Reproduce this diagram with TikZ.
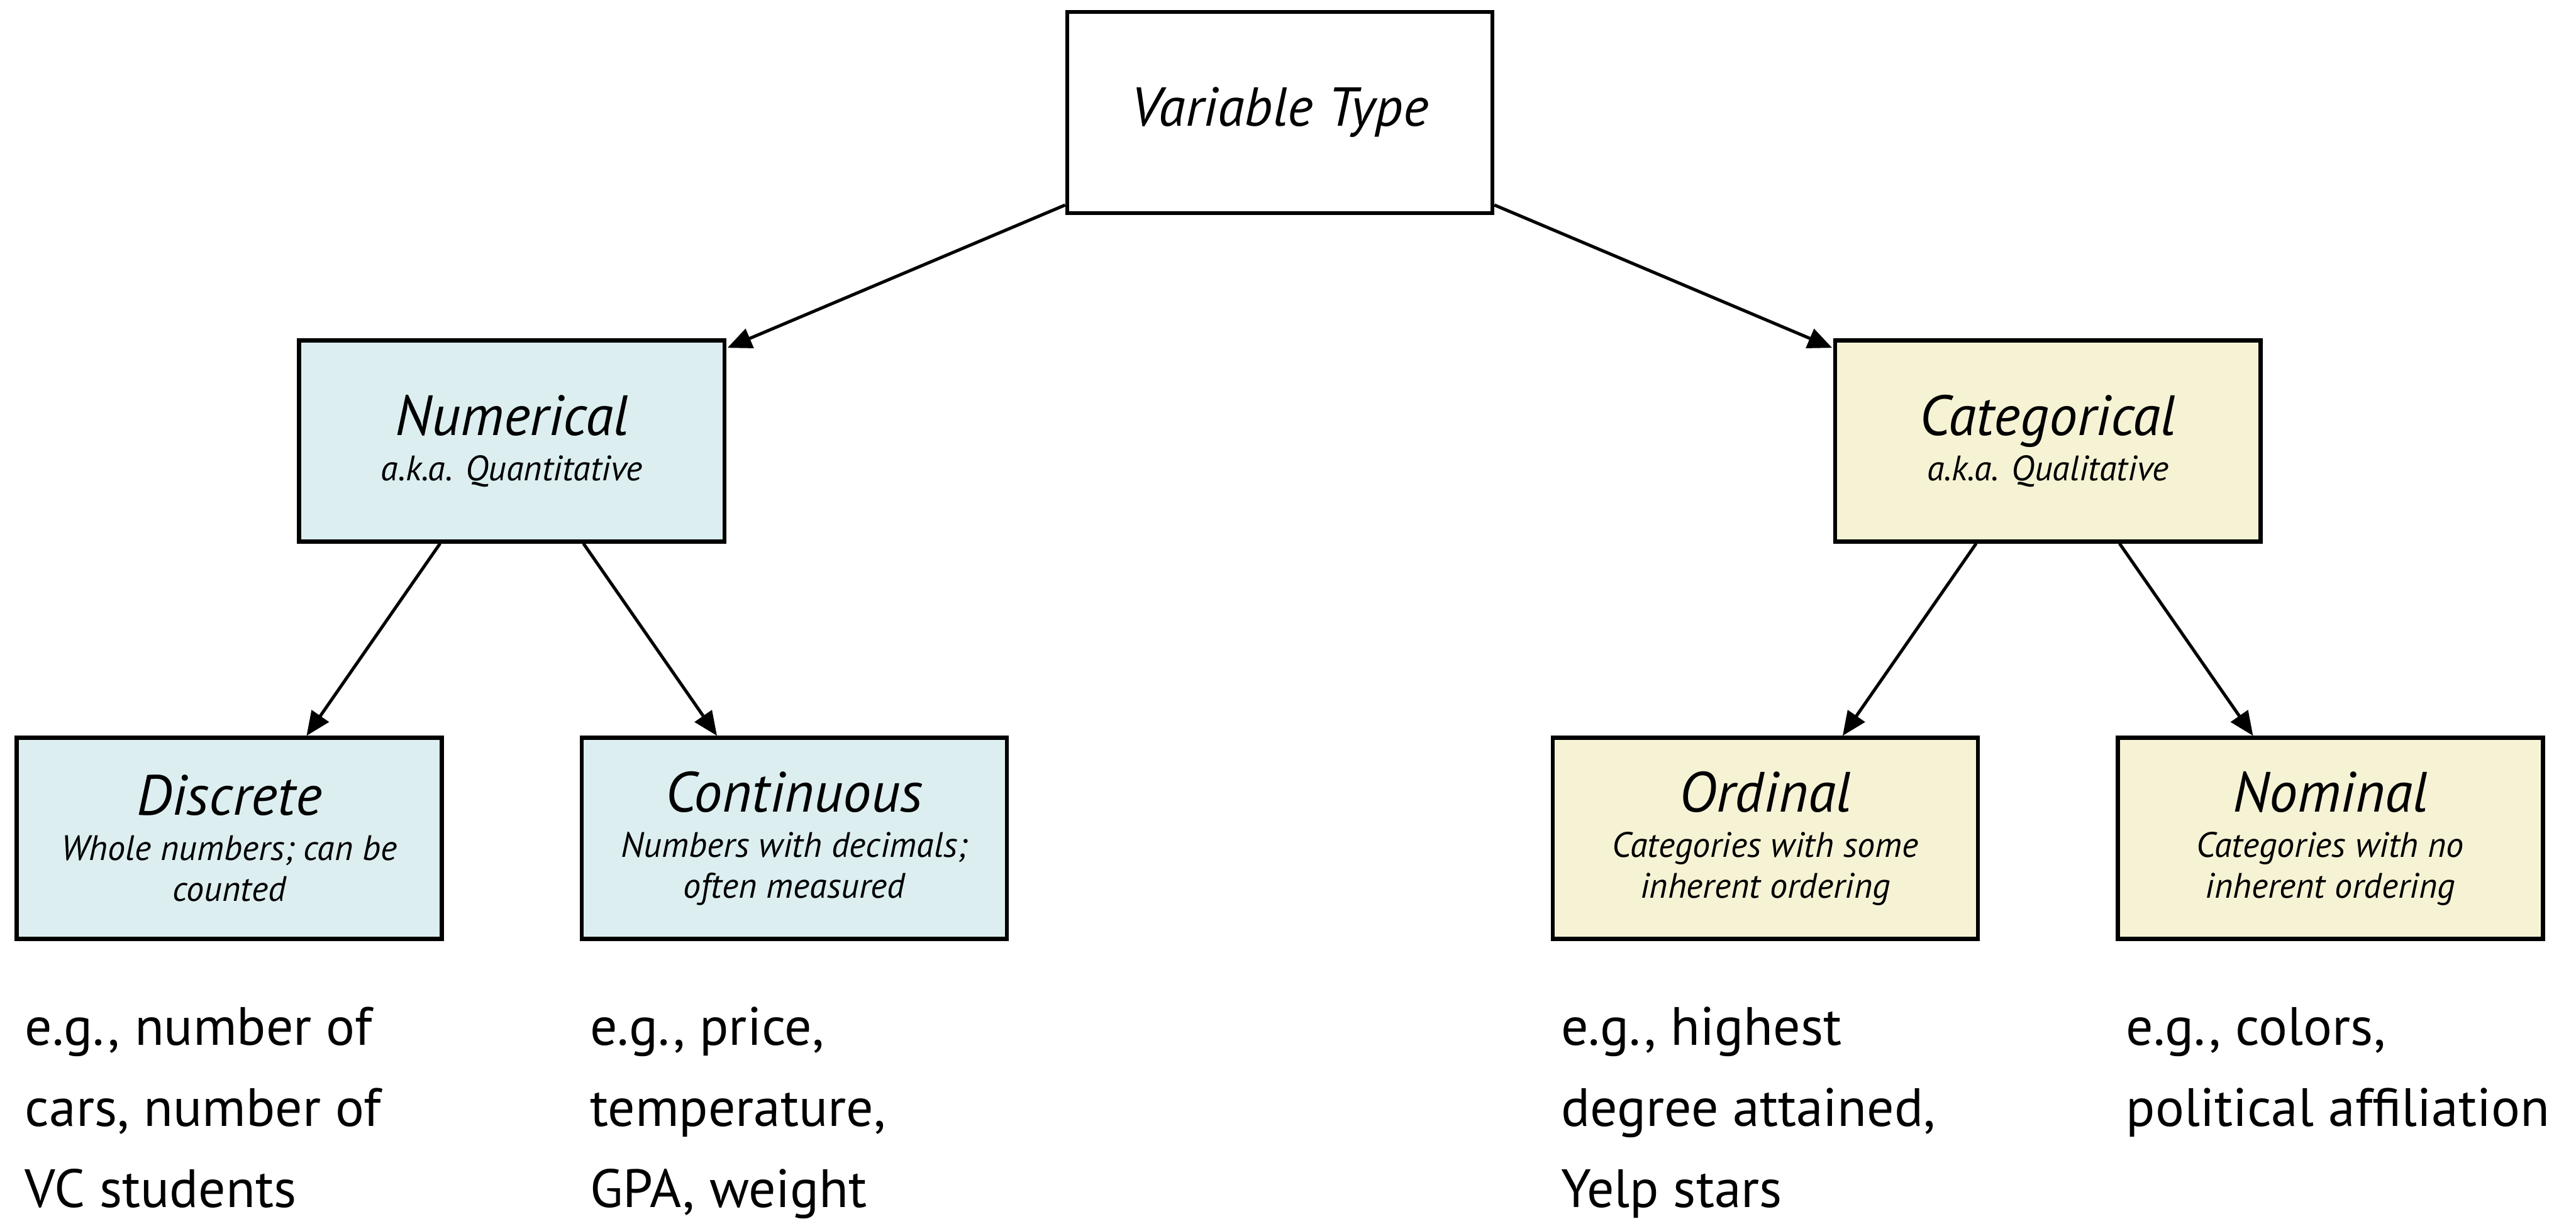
\documentclass[tikz,border=0pt]{standalone}
\usepackage{fontspec}
\setmainfont{PT Sans}
\usetikzlibrary{arrows.meta,calc}
\definecolor{numblue}{HTML}{DCEEF0}
\definecolor{catyellow}{HTML}{F6F3D5}
\tikzset{
  box/.style={draw=black, line width=2.2pt, minimum width=8.03cm, minimum height=3.80cm, inner sep=0pt, align=center},
  numbox/.style={box, fill=numblue},
  catbox/.style={box, fill=catyellow},
  conn/.style={line width=1.7pt, -{Triangle[length=13pt,width=11pt]}},
  example/.style={anchor=base west, inner sep=0pt, font=\fontsize{29}{43.5}\selectfont}
}
\newcommand\bxtext[2]{\parbox{7.8cm}{\centering{\fontsize{30.5}{34}\selectfont\itshape #1\par}\vspace{2.5pt}{\fontsize{19}{21.9}\selectfont\itshape #2\par}}}
\newcommand\exlines[1]{\begin{tabular}[t]{@{}l@{}}#1\end{tabular}}
\begin{document}
\begin{tikzpicture}
\useasboundingbox (0,0) rectangle (48.65,-23.12);
\node[box] (top) at (24.17,-2.125) {\raisebox{-4pt}{\fontsize{29.5}{34}\selectfont\itshape Variable Type}};
\node[numbox] (num) at (9.665,-8.33) {\bxtext{Numerical}{a.k.a. Quantitative}};
\node[catbox] (cat) at (38.675,-8.33) {\bxtext{Categorical}{a.k.a. Qualitative}};
\node[numbox] (dis) at (4.33,-15.84) {\bxtext{Discrete}{Whole numbers; can be\\counted}};
\node[numbox] (con) at (15.0,-15.84) {\bxtext{Continuous}{Numbers with decimals;\\often measured}};
\node[catbox] (ord) at (33.34,-15.84) {\bxtext{Ordinal}{Categories with some\\inherent ordering}};
\node[catbox] (nom) at (44.01,-15.84) {\bxtext{Nominal}{Categories with no\\inherent ordering}};

\draw[conn] ($(top.south west)+(0,0.19)$) -- ($(num.north east)+(0.02,-0.18)$);
\draw[conn] ($(top.south east)+(0,0.19)$) -- ($(cat.north west)+(-0.02,-0.18)$);
\draw[conn] ($(num.south west)!0.333!(num.south east)$) -- ($(dis.north west)!0.68!(dis.north east)$);
\draw[conn] ($(num.south west)!0.667!(num.south east)$) -- ($(con.north west)!0.32!(con.north east)$);
\draw[conn] ($(cat.south west)!0.333!(cat.south east)$) -- ($(ord.north west)!0.68!(ord.north east)$);
\draw[conn] ($(cat.south west)!0.667!(cat.south east)$) -- ($(nom.north west)!0.32!(nom.north east)$);

\node[example] (exdis) at ($(dis.south west)+(0.19,-1.97)$) {\exlines{e.g., number of\\cars, number of\\VC students}};
\node[example] (excon) at ($(con.south west)+(0.19,-1.97)$) {\exlines{e.g., price,\\temperature,\\GPA, weight}};
\node[example] (exord) at ($(ord.south west)+(0.19,-1.97)$) {\exlines{e.g., highest\\degree attained,\\Yelp stars}};
\node[example] (exnom) at ($(nom.south west)+(0.19,-1.97)$) {\exlines{e.g., colors,\\political affiliation}};
\end{tikzpicture}
\end{document}
